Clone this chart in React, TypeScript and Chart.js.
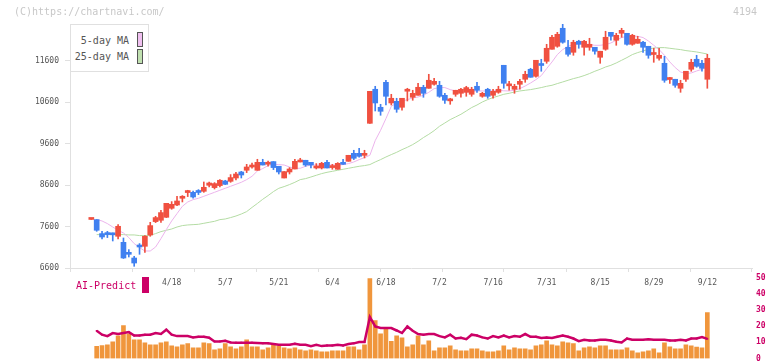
import React, { useEffect, useRef } from "react";
import { Chart, registerables } from "chart.js";

Chart.register(...registerables);

// ---- data ----
const opens = [
  7770, 7766, 7429, 7420, 7410, 7364, 7219, 6978, 6841, 7140,
  7123, 7395, 7718, 7750, 7822, 8039, 8118, 8280, 8418, 8424,
  8430, 8448, 8593, 8537, 8586, 8697, 8689, 8769, 8914, 8955,
  9034, 8955, 9147, 9100, 9164, 9051, 8769, 8914, 8986, 9155,
  9196, 9147, 9010, 9010, 9147, 9020, 8979, 9147, 9171, 9364,
  9364, 9315, 10087, 10907, 10473, 11075, 10577, 10617, 10473, 10860,
  10714, 10762, 10955, 10931, 11027, 11003, 10762, 10628, 10786, 10810,
  10834, 10786, 10979, 10738, 10907, 10762, 10834, 11485, 10990, 10907,
  11027, 11148, 11389, 11220, 11490, 11581, 11871, 11943, 12377, 11919,
  11798, 12064, 11919, 11919, 11919, 11678, 11871, 12280, 12088, 12256,
  12256, 11991, 12016, 12040, 11943, 11745, 11654, 11533, 11142, 11148,
  10931, 11148, 11389, 11630, 11533, 11148,
];
const highs = [
  7770, 7766, 7484, 7484, 7444, 7646, 7323, 7043, 6882, 7188,
  7381, 7701, 7846, 7991, 8159, 8200, 8328, 8345, 8473, 8456,
  8489, 8673, 8673, 8658, 8730, 8714, 8851, 8906, 8930, 9099,
  9131, 9220, 9220, 9179, 9164, 9051, 8923, 9020, 9220, 9244,
  9196, 9147, 9116, 9147, 9196, 9099, 9140, 9220, 9316, 9437,
  9485, 9437, 10858, 10979, 10545, 11124, 10786, 10690, 10690, 10931,
  10883, 11051, 11003, 11268, 11172, 11099, 10810, 10690, 10883, 10931,
  10979, 10955, 11075, 10834, 10931, 10907, 10979, 11485, 11099, 11027,
  11148, 11341, 11413, 11606, 11630, 11991, 12209, 12280, 12473, 12088,
  12088, 12088, 12088, 12136, 11919, 11823, 12305, 12280, 12256, 12377,
  12256, 12232, 12184, 12064, 11943, 11895, 11895, 11702, 11196, 11148,
  11124, 11341, 11630, 11726, 11606, 11750,
];
const lows = [
  7770, 7484, 7299, 7333, 7251, 7299, 6830, 6865, 6641, 6930,
  6978, 7364, 7694, 7701, 7815, 8015, 8104, 8191, 8321, 8280,
  8369, 8424, 8552, 8504, 8552, 8610, 8665, 8721, 8769, 8899,
  9003, 8955, 9082, 9051, 8971, 8865, 8769, 8865, 8986, 9155,
  9051, 9010, 8986, 8986, 9010, 8979, 8979, 9099, 9171, 9212,
  9268, 9251, 10087, 10384, 10280, 10528, 10528, 10352, 10401, 10625,
  10642, 10762, 10714, 10931, 11003, 10714, 10569, 10545, 10738, 10714,
  10738, 10738, 10834, 10714, 10690, 10690, 10810, 10931, 10883, 10810,
  10907, 11075, 11196, 11196, 11341, 11533, 11871, 11919, 12016, 11702,
  11726, 11895, 11726, 11847, 11750, 11533, 11847, 12088, 11967, 12160,
  11967, 11967, 12016, 11798, 11654, 11557, 11606, 11075, 11051, 10955,
  10834, 11099, 11341, 11437, 11341, 10931,
];
const closes = [
  7770, 7509, 7347, 7405, 7400, 7605, 6841, 6930, 6720, 7106,
  7364, 7622, 7815, 7935, 8159, 8135, 8215, 8295, 8430, 8311,
  8420, 8545, 8649, 8634, 8714, 8617, 8779, 8865, 8841, 9034,
  9082, 9147, 9082, 9112, 9020, 8914, 8923, 8986, 9171, 9196,
  9082, 9082, 9051, 9123, 9010, 9068, 9123, 9099, 9316, 9244,
  9292, 9330, 10858, 10577, 10376, 10738, 10690, 10425, 10690, 10875,
  10810, 10955, 10810, 11124, 11099, 10738, 10642, 10640, 10883, 10907,
  10948, 10907, 10883, 10810, 10738, 10858, 10907, 11051, 11000, 10979,
  11099, 11268, 11196, 11606, 11480, 11895, 12160, 12232, 12040, 11750,
  12040, 11991, 12064, 11991, 11823, 11823, 12160, 12184, 12208, 12328,
  11991, 12208, 12112, 11919, 11726, 11755, 11726, 11124, 11152, 11003,
  11051, 11341, 11557, 11461, 11413, 11654,
];
const ma5 = [
  null, 7766, 7733, 7670, 7588, 7509, 7444, 7333, 7188, 7092,
  7010, 7010, 7106, 7308, 7525, 7733, 7911, 8087, 8191, 8248,
  8280, 8328, 8376, 8424, 8473, 8521, 8569, 8617, 8665, 8730,
  8810, 8938, 8996, 9068, 9099, 9092, 9082, 9034, 9003, 9003,
  9051, 9082, 9082, 9075, 9082, 9082, 9082, 9092, 9116, 9155,
  9212, 9261, 9316, 9670, 9918, 10200, 10497, 10577, 10617, 10658,
  10697, 10721, 10762, 10834, 10923, 10948, 10948, 10899, 10866, 10842,
  10842, 10858, 10866, 10866, 10866, 10866, 10883, 10870, 10866, 10883,
  10923, 10986, 11058, 11140, 11237, 11405, 11565, 11743, 11863, 11943,
  11984, 11999, 12008, 11984, 11967, 11967, 11984, 12023, 12088, 12153,
  12184, 12184, 12184, 12153, 12071, 11967, 11863, 11726, 11565, 11430,
  11324, 11285, 11300, 11348, 11389, 11444,
];
const ma25 = [
  null, 7405, 7405, 7405, 7405, 7405, 7405, 7397, 7397, 7381,
  7381, 7389, 7429, 7477, 7509, 7540, 7588, 7622, 7637, 7645,
  7653, 7677, 7701, 7725, 7766, 7781, 7815, 7853, 7901, 7959,
  8060, 8155, 8256, 8345, 8441, 8521, 8562, 8610, 8665, 8730,
  8754, 8793, 8834, 8875, 8906, 8930, 8955, 8979, 9003, 9027,
  9051, 9068, 9092, 9155, 9212, 9275, 9333, 9388, 9453, 9509,
  9574, 9653, 9743, 9822, 9910, 10015, 10095, 10176, 10239, 10304,
  10384, 10466, 10528, 10601, 10658, 10707, 10745, 10786, 10810, 10842,
  10866, 10883, 10899, 10923, 10948, 10979, 11003, 11044, 11083, 11124,
  11164, 11196, 11237, 11285, 11341, 11389, 11444, 11485, 11541, 11606,
  11671, 11743, 11791, 11830, 11871, 11902, 11911, 11911, 11895, 11878,
  11863, 11839, 11823, 11806, 11782, 11757,
];
const volume = [
  null, 7.5, 8.1, 8.5, 10.4, 14.1, 20.4, 15.4, 11.6, 11.6,
  9.8, 8.5, 8.5, 9.8, 10.4, 7.9, 7.3, 8.5, 9.2, 6.7,
  6.7, 9.8, 9.2, 5.4, 6.0, 9.2, 7.3, 6.0, 7.3, 11.6,
  7.3, 7.3, 5.4, 6.7, 8.5, 7.9, 6.7, 6.0, 6.7, 5.4,
  4.8, 5.4, 4.8, 4.2, 4.2, 4.8, 4.8, 4.8, 7.3, 7.3,
  5.4, 8.5, 49.6, 23.5, 15.4, 18.5, 10.6, 14.1, 12.9, 7.3,
  8.5, 14.1, 8.5, 11.0, 4.8, 6.7, 6.7, 7.9, 5.4, 4.8,
  4.8, 6.0, 6.0, 4.8, 4.2, 4.2, 4.8, 7.9, 5.4, 6.7,
  6.0, 6.0, 5.4, 7.9, 8.5, 11.0, 8.5, 7.9, 10.4, 9.8,
  9.2, 4.8, 6.7, 7.3, 6.7, 7.9, 7.9, 5.4, 5.4, 5.4,
  6.7, 4.8, 3.5, 4.2, 4.8, 6.0, 3.5, 9.8, 7.3, 6.0,
  6.0, 8.5, 7.9, 7.1, 6.7, 28.5,
];
const aiPredict = [
  null, 17.2, 14.8, 13.9, 15.8, 15.2, 15.8, 16.4, 14.3, 14.3,
  14.8, 14.8, 15.8, 15.2, 17.9, 14.8, 13.9, 13.9, 13.9, 13.1,
  13.5, 13.5, 12.9, 10.6, 10.6, 11.0, 10.0, 9.8, 9.8, 9.8,
  9.8, 9.6, 9.4, 9.4, 9.0, 8.5, 8.5, 8.5, 9.2, 8.5,
  8.5, 7.7, 8.5, 7.7, 8.1, 8.1, 8.5, 8.1, 9.0, 9.4,
  10.2, 10.2, 25.8, 19.9, 18.9, 18.9, 18.9, 17.4, 15.8, 19.9,
  17.2, 15.2, 14.8, 15.2, 15.2, 13.9, 13.1, 14.8, 12.4, 12.9,
  12.0, 14.8, 14.3, 13.1, 12.4, 13.9, 13.1, 14.3, 13.1, 13.9,
  13.5, 15.2, 13.5, 13.5, 12.7, 13.1, 12.7, 13.5, 14.3, 13.5,
  12.4, 10.8, 11.6, 11.2, 11.2, 11.6, 11.6, 11.2, 10.4, 10.0,
  12.4, 11.6, 11.6, 11.6, 12.0, 11.6, 11.6, 11.6, 11.2, 11.2,
  11.6, 11.2, 12.4, 12.4, 13.3, 12.2,
];
const dateLabelIdx = [15, 25, 35, 45, 55, 65, 75, 85, 95, 105, 115];
const dateLabels = ["4/18", "5/7", "5/21", "6/4", "6/18", "7/2", "7/16", "7/31", "8/15", "8/29", "9/12"];
const priceTicks = [6600, 7600, 8600, 9600, 10600, 11600];
const volTicks = [0, 10, 20, 30, 40, 50];

// ---- styles ----
const UP = "#f05040";
const DOWN = "#4080f0";
const X_MIN = -3.98;
const X_MAX = 123.34;
const MONO = "'DejaVu Sans Mono', monospace";
const AXIS = "#e0e0e0";

export default function App() {
  const mainRef = useRef<HTMLCanvasElement | null>(null);
  const volRef = useRef<HTMLCanvasElement | null>(null);

  useEffect(() => {
    document.body.style.margin = "0";
    const idx = opens.map((_, i) => i);
    const candleColors = idx.map((i) => (closes[i] >= opens[i] ? UP : DOWN));

    const main = new Chart(mainRef.current as HTMLCanvasElement, {
      type: "bar",
      data: {
        datasets: [
          {
            type: "line",
            label: "25-day MA",
            data: ma25.map((v, i) => ({ x: i, y: v })),
            borderColor: "#b4dca4",
            borderWidth: 1,
            pointRadius: 0,
            xAxisID: "x",
            yAxisID: "y",
            order: 4,
          },
          {
            type: "line",
            label: "5-day MA",
            data: ma5.map((v, i) => ({ x: i, y: v })),
            borderColor: "#ecb4ec",
            borderWidth: 1,
            pointRadius: 0,
            xAxisID: "x",
            yAxisID: "y",
            order: 3,
          },
          {
            type: "bar",
            label: "wick",
            data: idx.map((i) => ({ x: i, y: [lows[i], highs[i]] })),
            backgroundColor: candleColors,
            barThickness: 1,
            minBarLength: 1,
            grouped: false,
            xAxisID: "x",
            yAxisID: "y",
            order: 2,
          },
          {
            type: "bar",
            label: "body",
            data: idx.map((i) => ({ x: i, y: [opens[i], closes[i]] })),
            backgroundColor: candleColors,
            barThickness: 5,
            minBarLength: 2,
            grouped: false,
            xAxisID: "x",
            yAxisID: "y",
            order: 1,
          },
        ] as any,
      },
      options: {
        responsive: false,
        animation: false,
        layout: { padding: { left: 0, right: 20, top: 24, bottom: 7 } },
        plugins: { legend: { display: false }, tooltip: { enabled: false } },
        scales: {
          x: {
            type: "linear",
            min: X_MIN,
            max: X_MAX,
            offset: false,
            position: "bottom",
            weight: 0,
            grid: { drawOnChartArea: false, color: AXIS, tickLength: 4, offset: false },
            border: { color: AXIS },
            ticks: { display: false },
            afterBuildTicks: (s: any) => {
              s.ticks = Array.from({ length: 12 }, (_, k) => ({ value: X_MIN + (k * (X_MAX - X_MIN)) / 11 }));
            },
            afterFit: (s: any) => {
              s.height = 5;
            },
          },
          xd: {
            type: "linear",
            min: X_MIN,
            max: X_MAX,
            offset: false,
            position: "bottom",
            weight: 1,
            grid: { display: false, drawTicks: false, offset: false },
            border: { display: false },
            ticks: {
              font: { family: MONO, size: 8 },
              color: "#555",
              padding: 5,
              autoSkip: false,
              maxRotation: 0,
              callback: (v: any) => {
                const k = dateLabelIdx.indexOf(v);
                return k >= 0 ? dateLabels[k] : "";
              },
            },
            afterBuildTicks: (s: any) => {
              s.ticks = dateLabelIdx.map((v) => ({ value: v }));
            },
            afterFit: (s: any) => {
              s.height = 20;
            },
          },
          y: {
            type: "linear",
            min: 6600,
            max: 12480,
            position: "left",
            grid: { drawOnChartArea: false, color: AXIS, tickLength: 5 },
            border: { color: AXIS },
            ticks: { font: { family: MONO, size: 8 }, color: "#555", padding: 6, callback: (v: any) => String(v) },
            afterBuildTicks: (s: any) => {
              s.ticks = priceTicks.map((v) => ({ value: v }));
            },
            afterFit: (s: any) => {
              s.width = 70;
            },
          },
        } as any,
      },
    });

    const vol = new Chart(volRef.current as HTMLCanvasElement, {
      type: "bar",
      data: {
        datasets: [
          {
            type: "line",
            label: "AI-Predict",
            data: aiPredict.map((v, i) => ({ x: i, y: v })),
            borderColor: "#cc0066",
            borderWidth: 2.5,
            pointRadius: 1.3,
            pointStyle: "rect",
            pointBackgroundColor: "#cc0066",
            pointBorderWidth: 0,
            order: 1,
          },
          {
            type: "bar",
            label: "Volume",
            data: volume.map((v, i) => ({ x: i, y: v })),
            backgroundColor: "#f0963c",
            barThickness: 4,
            grouped: false,
            order: 2,
          },
        ] as any,
      },
      options: {
        responsive: false,
        animation: false,
        layout: { padding: { left: 70, right: 0, top: 8, bottom: 7.5 } },
        plugins: { legend: { display: false }, tooltip: { enabled: false } },
        scales: {
          x: { type: "linear", min: X_MIN, max: X_MAX, offset: false, display: false, grid: { offset: false } },
          y: {
            type: "linear",
            position: "right",
            min: 0,
            max: 50,
            grid: { display: false, drawTicks: true, tickLength: 4 },
            border: { display: false },
            ticks: {
              font: { family: MONO, size: 8, weight: "bold" },
              color: "#cc0066",
              padding: 0,
              callback: (v: any) => String(v),
            },
            afterBuildTicks: (s: any) => {
              s.ticks = volTicks.map((v) => ({ value: v }));
            },
            afterFit: (s: any) => {
              s.width = 20;
            },
          },
        } as any,
      },
    });

    return () => {
      main.destroy();
      vol.destroy();
    };
  }, []);

  const txt: React.CSSProperties = { position: "absolute", fontFamily: MONO, fontSize: 10, lineHeight: "12px", whiteSpace: "nowrap" };

  return (
    <div style={{ position: "absolute", left: 0, top: 0, width: 772, height: 361, background: "#fff", overflow: "hidden" }}>
      <canvas ref={mainRef} width={772} height={300} style={{ position: "absolute", left: 0, top: 0 }} />
      <canvas ref={volRef} width={772} height={96} style={{ position: "absolute", left: 0, top: 270 }} />
      <div style={{ ...txt, left: 14, top: 6, color: "#c8c8c8" }}>(C)https://chartnavi.com/</div>
      <div style={{ ...txt, right: 15, top: 6, color: "#c8c8c8" }}>4194</div>
      <div
        style={{
          position: "absolute",
          left: 70,
          top: 24,
          width: 79,
          height: 48,
          border: `1px solid ${AXIS}`,
          background: "#fff",
          boxSizing: "border-box",
        }}
      >
        <div style={{ ...txt, right: 19, top: 10, color: "#555" }}>5-day MA</div>
        <div style={{ ...txt, right: 19, top: 26, color: "#555" }}>25-day MA</div>
        <div style={{ position: "absolute", left: 66, top: 7, width: 6, height: 15, background: "#f0c0f0", border: "1px solid #555", boxSizing: "border-box" }} />
        <div style={{ position: "absolute", left: 66, top: 24, width: 6, height: 15, background: "#c0e0b0", border: "1px solid #555", boxSizing: "border-box" }} />
      </div>
      <div style={{ ...txt, left: 76, top: 280, color: "#cc0066" }}>AI-Predict</div>
      <div style={{ position: "absolute", left: 142, top: 277, width: 7, height: 16, background: "#cc0066" }} />
    </div>
  );
}
